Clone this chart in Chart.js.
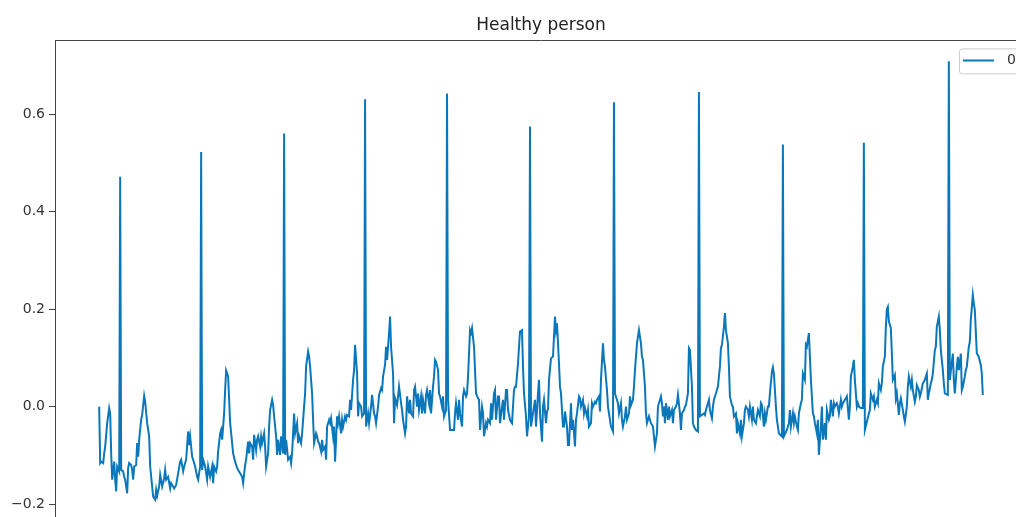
<!DOCTYPE html>
<html>
<head>
<meta charset="utf-8">
<title>Healthy person</title>
<script src="https://cdn.jsdelivr.net/npm/chart.js@4.4.1/dist/chart.umd.min.js"></script>
<style>
  html, body { margin: 0; padding: 0; background: #fff; overflow: hidden; }
  #wrap { position: relative; width: 1040px; height: 523px; }
</style>
</head>
<body>
<div id="wrap"><canvas id="ecgChart"></canvas></div>
<script>
const CHART_TITLE = "Healthy person";
const SERIES_LABEL = "0";
const Y_TICKS = [-0.2, 0.0, 0.2, 0.4, 0.6];

// sample number of each reading
const sampleIndex = [
  0, 1, 2, 4, 5, 6, 8, 10, 11, 12, 13, 15, 16, 17, 18, 20, 21, 22, 24, 25,
  26, 28, 29, 30, 32, 33, 34, 35, 37, 38, 39, 40, 42, 43, 45, 46, 48, 50, 51, 53,
  54, 56, 57, 58, 60, 61, 63, 65, 66, 67, 69, 71, 72, 75, 77, 79, 81, 82, 84, 85,
  87, 89, 90, 91, 93, 94, 96, 98, 99, 101, 102, 103, 104, 106, 108, 109, 111, 113, 114, 115,
  117, 118, 119, 121, 122, 123, 125, 126, 127, 129, 130, 131, 133, 134, 136, 138, 139, 141, 143, 144,
  146, 147, 149, 150, 151, 153, 154, 155, 157, 158, 159, 161, 162, 163, 165, 166, 167, 169, 170, 171,
  173, 174, 175, 177, 178, 179, 181, 182, 184, 185, 186, 187, 189, 191, 192, 193, 195, 196, 198, 199,
  200, 202, 203, 205, 206, 207, 209, 210, 211, 213, 214, 215, 217, 218, 219, 220, 222, 223, 224, 226,
  227, 228, 230, 231, 232, 234, 235, 236, 238, 239, 240, 242, 243, 244, 246, 247, 248, 250, 251, 252,
  254, 255, 256, 258, 259, 260, 262, 263, 265, 266, 267, 269, 270, 272, 273, 275, 276, 277, 279, 280,
  282, 283, 284, 286, 287, 288, 290, 291, 292, 294, 295, 296, 298, 299, 300, 302, 303, 304, 306, 307,
  308, 310, 311, 312, 314, 315, 316, 318, 319, 320, 322, 323, 324, 326, 327, 328, 330, 331, 332, 334,
  335, 336, 337, 339, 340, 341, 343, 344, 345, 347, 348, 349, 351, 355, 356, 357, 359, 360, 361, 363,
  364, 365, 367, 368, 369, 371, 372, 373, 375, 376, 377, 379, 380, 381, 383, 384, 385, 387, 388, 389,
  391, 392, 393, 395, 396, 397, 399, 400, 401, 403, 404, 405, 407, 408, 409, 411, 412, 413, 415, 416,
  417, 419, 420, 421, 423, 424, 425, 427, 428, 430, 431, 432, 436, 437, 439, 440, 441, 443, 444, 445,
  447, 448, 449, 450, 452, 454, 455, 456, 457, 458, 460, 461, 462, 464, 465, 466, 468, 469, 470, 472,
  473, 474, 476, 477, 478, 480, 481, 482, 484, 485, 486, 488, 489, 490, 492, 493, 494, 496, 497, 498,
  500, 501, 502, 504, 505, 506, 508, 509, 510, 512, 514, 515, 516, 519, 520, 522, 523, 524, 526, 527,
  528, 530, 531, 532, 534, 535, 536, 538, 539, 540, 542, 543, 544, 546, 547, 548, 550, 551, 552, 554,
  555, 556, 558, 559, 560, 562, 563, 564, 565, 566, 567, 569, 570, 571, 573, 574, 575, 577, 578, 579,
  581, 582, 583, 585, 586, 587, 589, 590, 591, 593, 594, 595, 597, 599, 600, 601, 605, 606, 607, 609,
  610, 611, 613, 614, 615, 617, 618, 619, 621, 622, 623, 625, 626, 627, 629, 630, 631, 633, 634, 635,
  637, 638, 639, 641, 642, 643, 645, 646, 647, 649, 650, 651, 653, 654, 655, 657, 658, 659, 661, 662,
  663, 665, 666, 667, 669, 670, 671, 673, 674, 675, 677, 678, 679, 680, 683, 684, 685, 688, 690, 691,
  692, 694, 695, 696, 698, 699, 700, 702, 703, 704, 706, 707, 708, 710, 711, 712, 714, 715, 716, 718,
  719, 720, 722, 723, 724, 726, 727, 728, 730, 731, 732, 734, 735, 736, 738, 739, 740, 742, 743, 744,
  746, 747, 748, 750, 751, 752, 754, 755, 756, 758, 759, 760, 762, 764, 765, 766, 770, 771, 772, 774,
  775, 776, 778, 779, 780, 782, 783, 784, 786, 787, 788, 789, 790, 792, 793, 794, 796, 797, 798, 800,
  801, 802, 804, 805, 806, 808, 809, 810, 812, 813, 814, 816, 817, 818, 820, 821, 822, 824, 825, 826,
  828, 829, 830, 832, 833, 834, 836, 837, 838, 840, 841, 842, 844, 845, 846, 849, 850, 851, 854, 855,
  856, 858, 859, 860, 862, 863, 864, 866, 867, 868, 870, 871, 872, 874, 875, 876, 878, 879, 880, 882,
  883, 884
];

// ECG amplitude at each sample
const amplitude = [
  0.000, -0.116, -0.113, -0.116, -0.096, -0.082, -0.034, -0.003, -0.014, -0.096, -0.150, -0.113, -0.150, -0.174, -0.123, -0.133, 0.472, -0.130, -0.133, -0.144,
  -0.150, -0.178, -0.126, -0.116, -0.120, -0.130, -0.150, -0.123, -0.120, -0.075, -0.103, -0.068, -0.027, -0.017, 0.022, 0.010, -0.034, -0.061, -0.123, -0.164,
  -0.185, -0.191, -0.171, -0.183, -0.164, -0.140, -0.164, -0.147, -0.130, -0.150, -0.144, -0.168, -0.157, -0.168, -0.161, -0.137, -0.113, -0.109, -0.133, -0.123,
  -0.109, -0.051, -0.079, -0.061, -0.103, -0.109, -0.123, -0.144, -0.150, -0.123, 0.523, -0.130, -0.109, -0.123, -0.150, -0.123, -0.144, -0.123, -0.157, -0.123,
  -0.133, -0.123, -0.092, -0.055, -0.048, -0.068, -0.014, 0.034, 0.074, 0.062, 0.014, -0.034, -0.075, -0.096, -0.113, -0.126, -0.130, -0.137, -0.144, -0.157,
  -0.120, -0.109, -0.072, -0.096, -0.075, -0.082, -0.109, -0.058, -0.089, -0.068, -0.061, -0.082, -0.061, -0.075, -0.055, -0.082, -0.123, -0.096, -0.041, -0.007,
  0.014, 0.003, -0.020, -0.061, -0.099, -0.068, -0.099, -0.061, -0.096, 0.561, -0.099, -0.068, -0.109, -0.103, -0.116, -0.096, -0.014, -0.055, -0.034, -0.075,
  -0.061, -0.075, -0.055, 0.000, 0.027, 0.082, 0.113, 0.103, 0.082, 0.027, -0.027, -0.075, -0.055, -0.061, -0.072, -0.075, -0.092, -0.068, -0.089, -0.082,
  -0.109, -0.041, -0.027, -0.034, -0.024, -0.061, -0.041, -0.113, -0.020, -0.034, -0.020, -0.055, -0.027, -0.041, -0.020, -0.027, -0.017, -0.020, 0.014, -0.007,
  0.055, 0.075, 0.127, 0.068, -0.020, 0.007, 0.000, -0.020, -0.014, 0.631, -0.041, -0.014, -0.034, 0.000, 0.024, -0.014, -0.020, -0.034, 0.000, 0.024,
  0.038, 0.034, 0.062, 0.086, 0.123, 0.096, 0.151, 0.185, 0.123, 0.068, -0.034, 0.017, 0.003, 0.021, 0.041, 0.007, -0.007, -0.027, -0.055, -0.041,
  0.021, -0.014, 0.014, -0.014, -0.020, 0.034, 0.041, 0.000, 0.027, -0.007, 0.021, -0.014, 0.014, -0.014, 0.024, 0.034, 0.007, 0.034, -0.014, 0.041,
  0.062, 0.096, 0.092, 0.075, 0.027, 0.021, 0.000, 0.021, -0.020, -0.007, 0.643, 0.014, -0.048, -0.048, -0.014, 0.007, -0.027, 0.014, -0.014, -0.041,
  0.021, 0.034, 0.021, 0.027, 0.062, 0.157, 0.151, 0.161, 0.123, 0.075, 0.027, 0.017, 0.014, -0.048, 0.000, -0.014, -0.061, -0.034, -0.041, -0.027,
  -0.034, 0.007, -0.027, 0.027, 0.034, -0.027, 0.021, 0.021, -0.034, 0.000, 0.014, -0.027, 0.034, 0.034, -0.007, -0.027, -0.031, -0.034, 0.034, 0.041,
  0.041, 0.089, 0.123, 0.154, 0.157, 0.082, 0.027, -0.020, -0.061, -0.020, 0.575, -0.041, 0.014, -0.041, 0.027, 0.055, -0.014, -0.072, 0.000, 0.014,
  -0.034, -0.010, -0.005, 0.055, 0.099, 0.103, 0.144, 0.185, 0.157, 0.171, 0.089, 0.041, 0.027, -0.041, -0.041, -0.010, -0.041, -0.079, -0.079, 0.007,
  -0.048, -0.027, -0.082, -0.027, -0.014, 0.021, 0.017, 0.000, 0.014, -0.014, -0.003, -0.020, -0.007, -0.041, -0.034, 0.007, 0.000, 0.010, 0.007, 0.014,
  0.021, -0.010, 0.055, 0.130, 0.096, 0.082, 0.034, 0.000, -0.014, -0.041, -0.051, 0.625, 0.027, 0.007, -0.014, 0.007, -0.027, -0.041, -0.020, 0.000,
  -0.027, -0.014, 0.021, 0.003, 0.014, 0.041, 0.075, 0.130, 0.144, 0.157, 0.130, 0.103, 0.096, 0.041, -0.014, -0.034, -0.020, -0.027, -0.034, -0.041,
  -0.061, -0.082, -0.055, 0.000, 0.007, 0.021, 0.007, -0.020, 0.000, -0.034, 0.007, -0.027, 0.000, -0.020, -0.007, -0.034, -0.007, 0.000, 0.007, 0.024,
  -0.014, -0.048, -0.014, -0.007, 0.000, 0.003, 0.027, 0.120, 0.116, 0.041, -0.034, -0.041, -0.048, -0.051, 0.646, -0.020, -0.014, -0.017, -0.007, 0.007,
  0.014, -0.007, -0.024, 0.000, 0.014, 0.027, 0.034, 0.041, 0.082, 0.120, 0.127, 0.164, 0.192, 0.157, 0.130, 0.082, 0.021, 0.003, 0.000, -0.020,
  -0.014, -0.055, -0.034, -0.055, -0.027, -0.061, -0.034, -0.007, 0.000, -0.007, -0.020, 0.000, -0.027, 0.000, -0.027, -0.034, -0.020, -0.007, -0.020, 0.007,
  0.003, -0.041, -0.014, -0.027, 0.000, 0.000, 0.027, 0.072, 0.081, 0.068, 0.000, -0.027, -0.041, -0.055, -0.061, 0.538, -0.061, -0.048, -0.034, -0.007,
  -0.041, -0.014, -0.034, -0.020, -0.041, -0.048, -0.014, 0.007, 0.014, 0.068, 0.055, 0.127, 0.123, 0.151, 0.103, 0.055, -0.014, -0.020, -0.034, -0.055,
  -0.027, -0.099, -0.041, 0.000, -0.068, -0.034, -0.068, -0.007, -0.027, -0.020, 0.014, -0.020, 0.007, 0.000, 0.007, 0.000, -0.014, 0.014, 0.000, 0.007,
  0.014, 0.017, 0.021, -0.027, 0.000, 0.062, 0.082, 0.096, 0.055, 0.000, 0.007, 0.000, -0.003, -0.003, 0.542, -0.048, -0.014, -0.007, 0.027, 0.014,
  0.021, 0.000, 0.014, 0.007, 0.048, 0.034, 0.048, 0.082, 0.103, 0.164, 0.200, 0.205, 0.175, 0.161, 0.109, 0.055, 0.065, 0.017, 0.027, -0.017,
  0.007, 0.017, -0.007, -0.020, -0.031, 0.000, 0.041, 0.062, 0.041, 0.055, 0.034, 0.010, 0.020, 0.044, 0.034, 0.020, 0.027, 0.048, 0.051, 0.055,
  0.068, 0.014, 0.027, 0.048, 0.055, 0.068, 0.116, 0.123, 0.164, 0.185, 0.157, 0.116, 0.075, 0.048, 0.027, 0.024, 0.709, 0.055, 0.109, 0.055,
  0.027, 0.082, 0.102, 0.075, 0.109, 0.034, 0.041, 0.062, 0.075, 0.082, 0.123, 0.133, 0.178, 0.229, 0.212, 0.198, 0.109, 0.106, 0.102, 0.085,
  0.068, 0.024
];

const LINE_COLOR = "#0a77ba";
const FRAME_COLOR = "#444444";

// matplotlib style margins: 5% on each side of the data
const xSpan = sampleIndex[sampleIndex.length - 1] - sampleIndex[0];
const X_MIN = sampleIndex[0] - 0.05 * xSpan;
const X_MAX = sampleIndex[sampleIndex.length - 1] + 0.05 * xSpan;
const Y_MIN = -0.239;
const Y_MAX = 0.752;

const points = sampleIndex.map((s, i) => ({ x: s, y: amplitude[i] }));

// legend sits inside the plot like matplotlib's "best" location, with a light frame
const legendBox = {
  id: "legendBox",
  afterLayout(chart) {
    const lg = chart.legend, area = chart.chartArea;
    const fx = area.right - 68, fy = area.top + 8;
    lg.left = fx + 4;
    lg.top = fy + 5;
    lg.right = fx + 57;
    lg.bottom = fy + 25;
  },
  beforeDraw(chart) {
    const ctx = chart.ctx, area = chart.chartArea;
    const fx = area.right - 68, fy = area.top + 8;
    ctx.save();
    ctx.beginPath();
    ctx.roundRect(fx + 0.5, fy + 0.5, 61, 25, 3);
    ctx.fillStyle = "rgba(255,255,255,0.8)";
    ctx.fill();
    ctx.strokeStyle = "#cccccc";
    ctx.lineWidth = 1;
    ctx.stroke();
    ctx.restore();
  }
};

Chart.defaults.font.family = "'DejaVu Sans', sans-serif";
Chart.defaults.color = "#333";

const ctx = document.getElementById("ecgChart");
new Chart(ctx, {
  type: "line",
  data: {
    datasets: [
      {
        label: SERIES_LABEL,
        data: points,
        borderColor: LINE_COLOR,
        backgroundColor: LINE_COLOR,
        borderWidth: 2,
        pointRadius: 0,
        tension: 0,
        fill: false,
      },
    ],
  },
  options: {
    animation: false,
    responsive: true,
    maintainAspectRatio: false,
    layout: { padding: { left: 0, right: 13, top: 0, bottom: 0 } },
    plugins: {
      title: {
        display: true,
        text: CHART_TITLE,
        fullSize: false,
        color: "#222",
        font: { size: 17, weight: "normal" },
        padding: { top: 15, bottom: 5 },
      },
      legend: {
        position: "chartArea",
        align: "start",
        labels: {
          usePointStyle: true,
          pointStyle: "line",
          pointStyleWidth: 31,
          padding: 0,
          textAlign: "right",
          color: "#333",
          font: { size: 14 },
        },
      },
      tooltip: { enabled: false },
    },
    scales: {
      x: { type: "linear", min: X_MIN, max: X_MAX, display: false },
      xTop: {
        type: "linear",
        position: "top",
        ticks: { display: false },
        grid: { display: false, drawTicks: false },
        border: { display: true, color: FRAME_COLOR, width: 1 },
      },
      y: {
        min: Y_MIN,
        max: Y_MAX,
        afterFit: (scale) => {
          scale.width = 55;
          // the plot runs off the bottom of the picture, so no room is kept for end labels
          scale.paddingTop = 0;
          scale.paddingBottom = 0;
        },
        afterBuildTicks: (scale) => { scale.ticks = Y_TICKS.map((v) => ({ value: v })); },
        ticks: {
          callback: (v) => Number(v).toFixed(1).replace("-", "\u2212"),
          padding: 4,
          color: "#333",
          font: { size: 14 },
        },
        grid: { drawOnChartArea: false, drawTicks: true, tickLength: 6, color: FRAME_COLOR },
        border: { display: true, color: FRAME_COLOR, width: 1 },
      },
    },
  },
  plugins: [legendBox],
});
</script>
</body>
</html>
